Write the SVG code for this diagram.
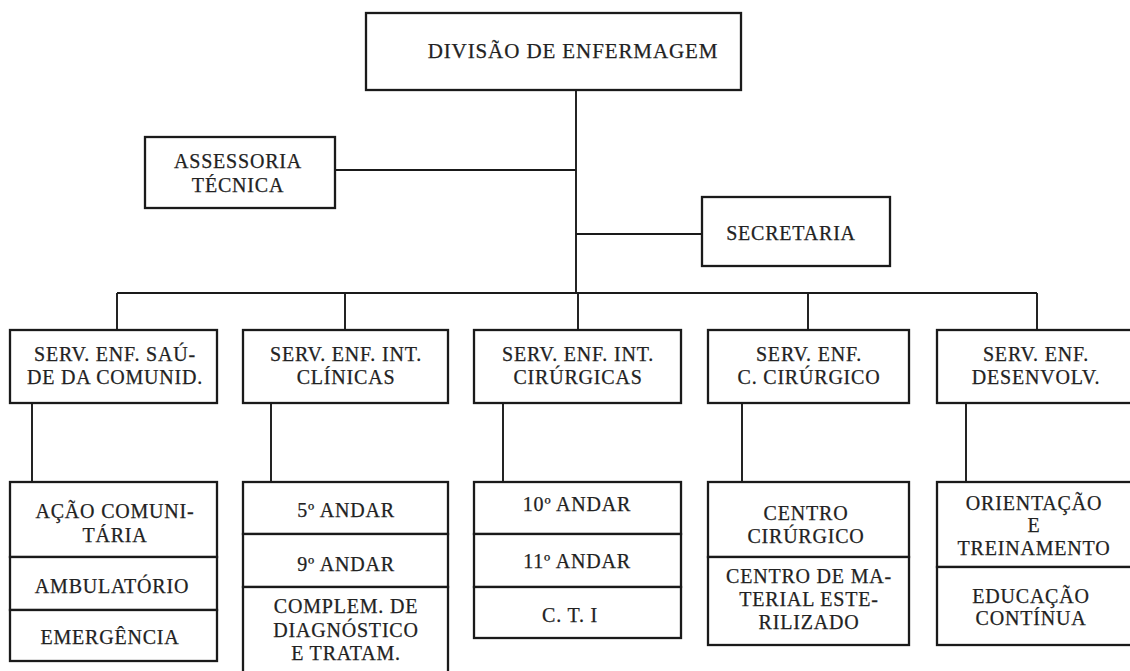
<svg xmlns="http://www.w3.org/2000/svg" width="1130" height="671" viewBox="0 0 1130 671">
<style>
.box{fill:#fff;stroke:#1a1a1a;stroke-width:2.3}
.ln{fill:none;stroke:#1a1a1a;stroke-width:1.9}
text{font-family:"Liberation Serif","DejaVu Serif",serif;font-size:20px;fill:#222;stroke:#222;stroke-width:0.25;text-anchor:middle;letter-spacing:0.8px}
.title{font-size:21px;letter-spacing:0.9px}
</style>
<rect width="1130" height="671" fill="#fff"/>
<g id="connectors">
<path class="ln" d="M576,90 V293"/>
<path class="ln" d="M335,170 H576"/>
<path class="ln" d="M576,234 H702"/>
<path class="ln" d="M117,293 H1037"/>
<path class="ln" d="M117,293 V330 M345,293 V330 M578,293 V330 M808,293 V330 M1037,293 V330"/>
<path class="ln" d="M32,403 V482 M271,403 V482 M503,403 V482 M742,403 V482 M966,403 V482"/>
</g>
<g id="divisao">
<rect class="box" x="366" y="13" width="375" height="77"/>
<text class="title" x="573" y="58">DIVISÃO DE ENFERMAGEM</text>
</g>
<g id="assessoria">
<rect class="box" x="145" y="137" width="190" height="71"/>
<text x="238" y="168">ASSESSORIA</text>
<text x="238" y="192">TÉCNICA</text>
</g>
<g id="secretaria">
<rect class="box" x="702" y="197" width="188" height="69"/>
<text x="791" y="240">SECRETARIA</text>
</g>
<g id="serv-saude">
<rect class="box" x="10" y="330" width="207" height="73"/>
<text x="115" y="361">SERV. ENF. SAÚ-</text>
<text x="115" y="384">DE DA COMUNID.</text>
</g>
<g id="serv-clinicas">
<rect class="box" x="243" y="330" width="205" height="73"/>
<text x="346" y="361">SERV. ENF. INT.</text>
<text x="346" y="384">CLÍNICAS</text>
</g>
<g id="serv-cirurgicas">
<rect class="box" x="474" y="330" width="207" height="73"/>
<text x="578" y="361">SERV. ENF. INT.</text>
<text x="578" y="384">CIRÚRGICAS</text>
</g>
<g id="serv-ccirurgico">
<rect class="box" x="708" y="330" width="201" height="73"/>
<text x="809" y="361">SERV. ENF.</text>
<text x="809" y="384">C. CIRÚRGICO</text>
</g>
<g id="serv-desenvolv">
<rect class="box" x="937" y="330" width="200" height="73"/>
<text x="1036" y="361">SERV. ENF.</text>
<text x="1036" y="384">DESENVOLV.</text>
</g>
<g id="acao-comunitaria">
<rect class="box" x="10" y="482" width="207" height="75"/>
<text x="115" y="518">AÇÃO COMUNI-</text>
<text x="115" y="542">TÁRIA</text>
</g>
<g id="ambulatorio">
<rect class="box" x="10" y="557" width="207" height="53"/>
<text x="112" y="593">AMBULATÓRIO</text>
</g>
<g id="emergencia">
<rect class="box" x="10" y="610" width="207" height="51"/>
<text x="110" y="644">EMERGÊNCIA</text>
</g>
<g id="andar5">
<rect class="box" x="243" y="482" width="205" height="52"/>
<text x="346" y="517">5º ANDAR</text>
</g>
<g id="andar9">
<rect class="box" x="243" y="534" width="205" height="53"/>
<text x="346" y="571">9º ANDAR</text>
</g>
<g id="complem">
<rect class="box" x="243" y="587" width="205" height="95"/>
<text x="346" y="613">COMPLEM. DE</text>
<text x="346" y="637">DIAGNÓSTICO</text>
<text x="346" y="660">E TRATAM.</text>
</g>
<g id="andar10">
<rect class="box" x="474" y="482" width="207" height="52"/>
<text x="577" y="511">10º ANDAR</text>
</g>
<g id="andar11">
<rect class="box" x="474" y="534" width="207" height="53"/>
<text x="577" y="568">11º ANDAR</text>
</g>
<g id="cti">
<rect class="box" x="474" y="587" width="207" height="51"/>
<text x="570" y="622">C. T. I</text>
</g>
<g id="centro-cirurgico">
<rect class="box" x="708" y="482" width="201" height="75"/>
<text x="806" y="520">CENTRO</text>
<text x="806" y="543">CIRÚRGICO</text>
</g>
<g id="centro-material">
<rect class="box" x="708" y="557" width="201" height="88"/>
<text x="809" y="583">CENTRO DE MA-</text>
<text x="809" y="606">TERIAL ESTE-</text>
<text x="809" y="629">RILIZADO</text>
</g>
<g id="orientacao">
<rect class="box" x="937" y="482" width="200" height="85"/>
<text x="1034" y="510">ORIENTAÇÃO</text>
<text x="1034" y="532">E</text>
<text x="1034" y="555">TREINAMENTO</text>
</g>
<g id="educacao">
<rect class="box" x="937" y="567" width="200" height="78"/>
<text x="1031" y="603">EDUCAÇÃO</text>
<text x="1031" y="625">CONTÍNUA</text>
</g>
</svg>
